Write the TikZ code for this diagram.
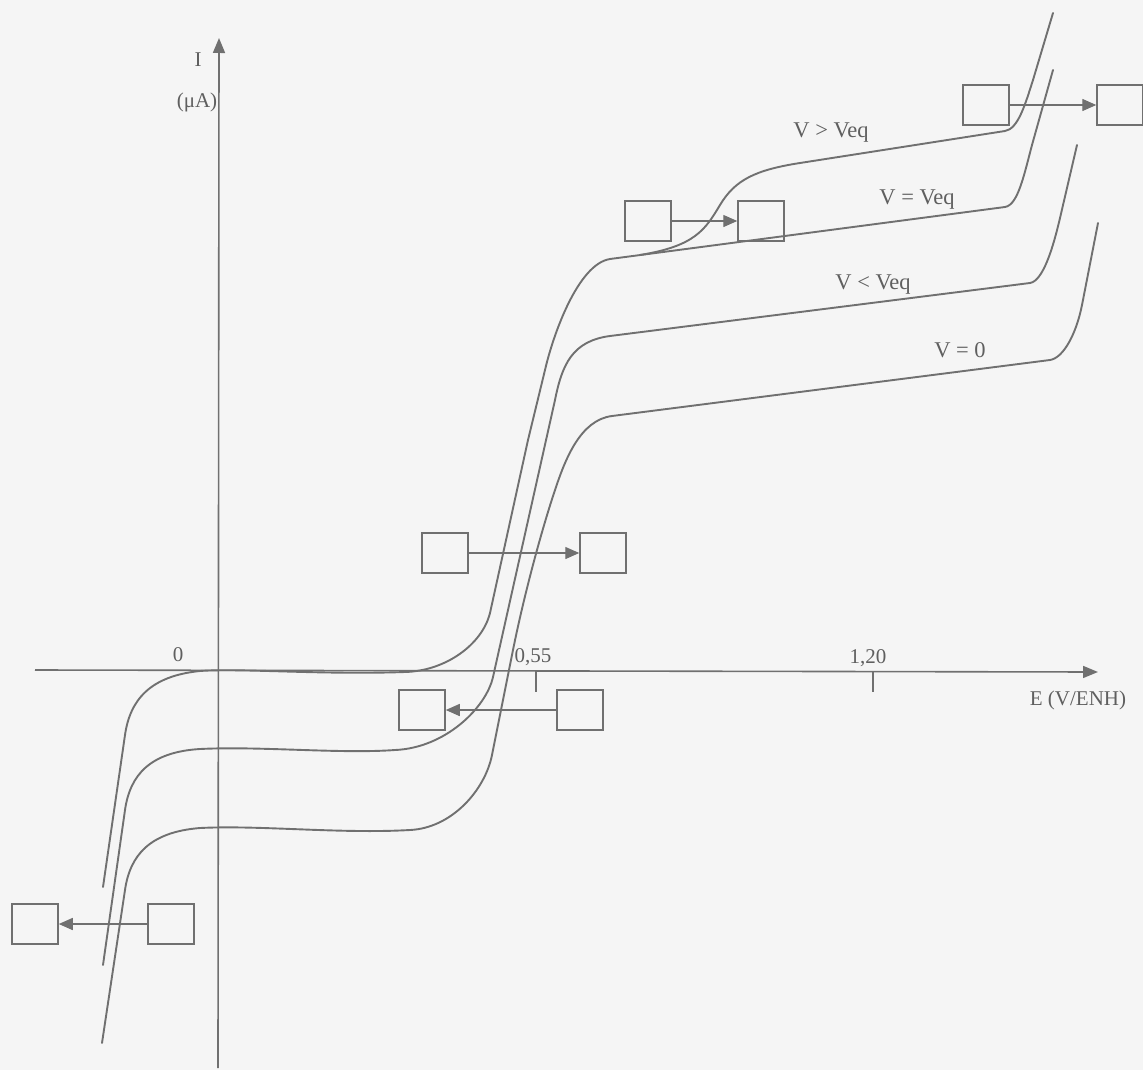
\documentclass[tikz,border=0pt]{standalone}
\usepackage{fontspec}
\setmainfont{Liberation Serif}
\usetikzlibrary{arrows.meta}
\definecolor{bgc}{RGB}{245,245,245}
\definecolor{lnc}{RGB}{112,112,112}
\definecolor{txc}{RGB}{95,95,95}
\begin{document}
\begin{tikzpicture}[x=1pt,y=-1pt,
  curve/.style={draw=lnc,line width=1.9pt,line cap=round,line join=round},
  axis/.style={draw=lnc,line width=1.6pt,-{Triangle[length=15pt,width=12pt]}},
  sq/.style={draw=lnc,line width=1.5pt,minimum width=46pt,minimum height=40pt,inner sep=0pt},
  conn/.style={draw=lnc,line width=1.4pt,-{Triangle[length=14pt,width=12pt]}},
  lbl/.style={text=txc,font=\fontsize{21}{25}\selectfont,inner sep=0pt},
  vlbl/.style={text=txc,font=\fontsize{22.5}{26}\selectfont,inner sep=0pt}]
\fill[bgc] (0,0) rectangle (1143,1070);
\useasboundingbox (0,0) rectangle (1143,1070);
% axes
\coordinate (xs) at (35,670);
\coordinate (xe) at (1098,672);
\coordinate (ys) at (218,1068);
\coordinate (ye) at (219,38);
\draw[axis] (xs) -- (xe);
\draw[axis] (ys) -- (ye);
% ticks
\coordinate (t1a) at (536,671); \coordinate (t1b) at (536,692);
\coordinate (t2a) at (873,672); \coordinate (t2b) at (873,692);
\draw[draw=lnc,line width=1.5pt] (t1a) -- (t1b);
\draw[draw=lnc,line width=1.5pt] (t2a) -- (t2b);
% axis labels
\node[lbl] (lI) at (198,60) {I};
\node[lbl] (lmuA) at (197,102) {(μA)};
\node[lbl] (l0) at (178,655) {0};
\node[lbl] (l055) at (533,657) {0,55};
\node[lbl] (l120) at (868,658) {1,20};
\node[lbl] (lE) at (1078,700) {E (V/ENH)};
% curve labels
\node[vlbl] (lgt) at (831,133) {V > Veq};
\node[vlbl] (leq) at (917,200) {V = Veq};
\node[vlbl] (llt) at (873,285) {V < Veq};
\node[vlbl] (lz) at (960,350) {V = 0};
% V = Veq
\draw[curve] (103,887) -- (125,735) .. controls (130,700) and (150,676) .. (200,671)
  .. controls (240,668) and (320,675) .. (405,672)
  .. controls (445,671) and (482,645) .. (490,613) -- (528,440) -- (545,370)
  .. controls (553,335) and (578,264) .. (610,259) -- (1005,207)
  .. controls (1018,205) and (1024,175) .. (1032,145) -- (1053,70);
% V > Veq
\draw[curve] (640,255) .. controls (695,246) and (705,230) .. (720,205)
  .. controls (735,180) and (755,170) .. (800,163) -- (1005,131)
  .. controls (1018,129) and (1025,105) .. (1033,80) -- (1053,13);
% V < Veq
\draw[curve] (103,965) -- (125,810) .. controls (130,775) and (150,752) .. (200,749)
  .. controls (260,746) and (340,754) .. (395,750)
  .. controls (445,748) and (486,708) .. (493,677) -- (555,400)
  .. controls (562,365) and (572,341) .. (610,336) -- (1030,283)
  .. controls (1043,281) and (1053,248) .. (1060,218) -- (1077,145);
% V = 0
\draw[curve] (102,1043) -- (125,890) .. controls (130,855) and (150,832) .. (200,828)
  .. controls (260,825) and (340,834) .. (410,830)
  .. controls (452,828) and (485,790) .. (492,755) -- (513,650)
  .. controls (523,600) and (540,535) .. (555,490)
  .. controls (565,460) and (580,420) .. (612,416) -- (1050,360)
  .. controls (1063,358) and (1076,335) .. (1082,305) -- (1098,223);
% boxes
\node[sq] (A) at (986,105) {};
\node[sq] (B) at (1120,105) {};
\node[sq] (C) at (648,221) {};
\node[sq] (D) at (761,221) {};
\node[sq] (E) at (445,553) {};
\node[sq] (F) at (603,553) {};
\node[sq] (G) at (422,710) {};
\node[sq] (H) at (580,710) {};
\node[sq] (I) at (35,924) {};
\node[sq] (J) at (171,924) {};
% connectors
\draw[conn] (A) -- (B);
\draw[conn] (C) -- (D);
\draw[conn] (E) -- (F);
\draw[conn] (H) -- (G);
\draw[conn] (J) -- (I);
\end{tikzpicture}
\end{document}
